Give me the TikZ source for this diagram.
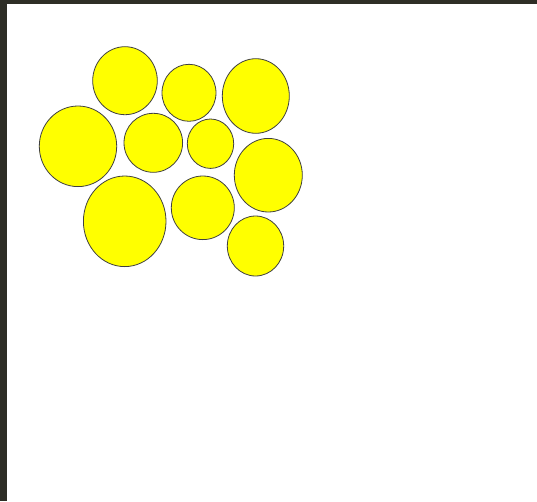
\documentclass[tikz,border=0pt]{standalone}
\usepackage{tikz}
\usepackage{xcolor}

\definecolor{frame}{RGB}{46,46,38}
\definecolor{ballfill}{RGB}{255,255,0}

\begin{document}
\begin{tikzpicture}[x=1pt,y=-1pt]
  \useasboundingbox (0,0) rectangle (537,501);
  \fill[frame] (0,0) rectangle (537,501);
  \fill[white] (7,4) rectangle (537,501);
  \foreach \cx/\cy/\rx/\ry in {125/80.7/32.3/34,189/92.8/27/28.5,255.8/96/33.5/37.3,
      78/146.3/38.7/40.3,153.3/142.8/29.3/29.5,210.5/143.7/23.2/24.7,
      268.3/175.2/34/36.8,124.7/221.3/41.3/45.3,202.8/207.8/31.5/31.8,255.5/246/28.2/30} {
    \draw[fill=ballfill,draw=black!75,line width=0.8pt] (\cx,\cy) ellipse ({\rx} and {\ry});
  }
\end{tikzpicture}
\end{document}
